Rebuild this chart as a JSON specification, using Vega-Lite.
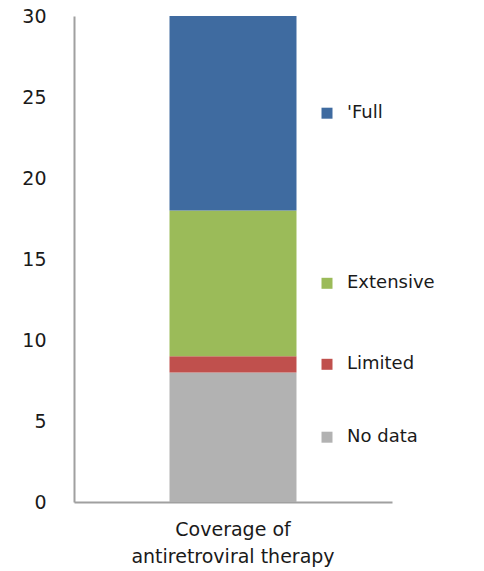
{
  "$schema": "https://vega.github.io/schema/vega-lite/v6.json",
  "width": 318,
  "height": 486,
  "autosize": "none",
  "padding": {"left": 74, "top": 16, "right": 92, "bottom": 69},
  "background": "white",
  "config": {"view": {"stroke": null}, "font": "DejaVu Sans"},
  "data": {
    "values": [
      {"category": "Coverage of antiretroviral therapy", "coverage": "No data", "count": 8, "order": 1},
      {"category": "Coverage of antiretroviral therapy", "coverage": "Limited", "count": 1, "order": 2},
      {"category": "Coverage of antiretroviral therapy", "coverage": "Extensive", "count": 9, "order": 3},
      {"category": "Coverage of antiretroviral therapy", "coverage": "'Full", "count": 12, "order": 4}
    ]
  },
  "layer": [
    {
      "mark": {"type": "bar"},
      "encoding": {
        "x": {
          "field": "category", "type": "nominal",
          "scale": {"paddingInner": 0, "paddingOuter": 0.752},
          "axis": {
            "title": null, "labelAngle": 0, "ticks": false,
            "domainColor": "#A0A0A0", "domainWidth": 2,
            "labelFontSize": 19, "labelColor": "#1a1a1a", "labelPadding": 18,
            "labelLineHeight": 27, "labelLimit": 0,
            "labelExpr": "['Coverage of', 'antiretroviral therapy']"
          }
        },
        "y": {
          "field": "count", "type": "quantitative", "stack": "zero",
          "scale": {"domain": [0, 30], "nice": false},
          "axis": {
            "title": null, "grid": false, "ticks": false,
            "values": [0, 5, 10, 15, 20, 25, 30],
            "domainColor": "#A0A0A0", "domainWidth": 2,
            "labelFontSize": 19, "labelColor": "#1a1a1a", "labelPadding": 28,
            "labelFlush": false, "labelOverlap": false
          }
        },
        "color": {
          "field": "coverage", "type": "nominal",
          "scale": {"domain": ["No data", "Limited", "Extensive", "'Full"], "range": ["#B2B2B2", "#C0504D", "#9BBB59", "#3F6BA0"]},
          "legend": null
        },
        "order": {"field": "order", "type": "quantitative"}
      }
    },
    {
      "transform": [
        {"stack": "count", "groupby": ["category"], "sort": [{"field": "order"}], "as": ["y0", "y1"]},
        {"fold": ["y0", "y1"], "as": ["edge", "edgeValue"]}
      ],
      "layer": [
        {
          "mark": {"type": "square", "size": 121, "opacity": 1, "filled": true, "xOffset": 94},
          "encoding": {
            "x": {"field": "category", "type": "nominal"},
            "y": {"aggregate": "mean", "field": "edgeValue", "type": "quantitative"},
            "color": {"field": "coverage", "type": "nominal", "legend": null}
          }
        },
        {
          "mark": {"type": "text", "align": "left", "baseline": "middle", "dx": 114, "fontSize": 18, "color": "#1a1a1a"},
          "encoding": {
            "x": {"field": "category", "type": "nominal"},
            "y": {"aggregate": "mean", "field": "edgeValue", "type": "quantitative"},
            "text": {"field": "coverage", "type": "nominal"}
          }
        }
      ]
    }
  ]
}
